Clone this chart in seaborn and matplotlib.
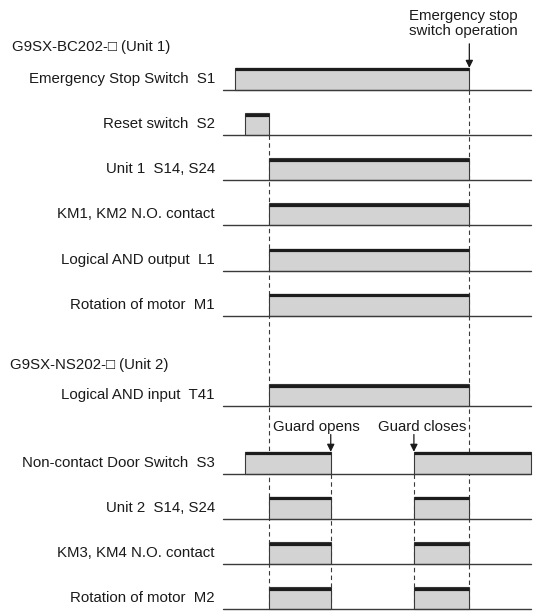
import matplotlib
matplotlib.use("Agg")
import matplotlib.pyplot as plt
import seaborn as sns

# signal names (top group = Unit 1, bottom group = Unit 2)
unit1_labels = ["Emergency Stop Switch  S1", "Reset switch  S2", "Unit 1  S14, S24",
                "KM1, KM2 N.O. contact", "Logical AND output  L1", "Rotation of motor  M1"]
unit2_labels = ["Logical AND input  T41", "Non-contact Door Switch  S3", "Unit 2  S14, S24",
                "KM3, KM4 N.O. contact", "Rotation of motor  M2"]

# ON intervals, time in arbitrary units (0 .. 100)
unit1_on = [[4], [7], [15], [15], [15], [15]]
unit1_off = [[80], [15], [80], [80], [80], [80]]
unit2_on = [[15], [7, 62], [15, 62], [15, 62], [15, 62]]
unit2_off = [[80], [35, 100], [35, 80], [35, 80], [35, 80]]

t_reset = 15
t_estop = 80
t_guard_open = 35
t_guard_close = 62
t_end = 100

header1 = "G9SX-BC202-\u25a1 (Unit 1)"
header2 = "G9SX-NS202-\u25a1 (Unit 2)"

sns.set_theme(style="white")
plt.rcParams['font.family'] = ['Liberation Sans', 'DejaVu Sans']

fig = plt.figure(figsize=(5.34, 6.12), dpi=100)
ax = fig.add_axes([0, 0, 1, 1])
ax.set_xlim(-72.4, 101.0)
ax.set_ylim(11.56, -1.99)
ax.axis('off')

# row layout
rows1 = [0, 1, 2, 3, 4, 5]
rows2 = [7, 8.5, 9.5, 10.5, 11.5]
h = 0.487
fs = 10.8
edge = '#3a3a3a'

labels = unit1_labels + unit2_labels
ons = unit1_on + unit2_on
offs = unit1_off + unit2_off
rows = rows1 + rows2

# dashed timing guides
ax.vlines(t_reset, 1, rows2[-1], color=edge, lw=0.8, linestyles=(0, (4, 3)), zorder=1)
ax.vlines(t_estop, 0, rows2[-1], color=edge, lw=0.8, linestyles=(0, (4, 3)), zorder=1)
ax.vlines([t_guard_open, t_guard_close], rows2[1], rows2[-1], color=edge, lw=0.8,
          linestyles=(0, (4, 3)), zorder=1)

for lab, r, on, off in zip(labels, rows, ons, offs):
    ax.plot([0, t_end], [r, r], color=edge, lw=1.0, zorder=3)
    for a, b in zip(on, off):
        ax.barh(r - h / 2, b - a, left=a, height=h, color='#d3d3d3',
                edgecolor=edge, lw=0.8, zorder=2)
        ax.hlines(r - h + 0.033, a, b, color='#1c1c1c', lw=2.3, zorder=4)
    ax.text(-2.6, r - 0.243, lab, ha='right', va='center', fontsize=fs, color='#1a1a1a')

ax.text(-68.5, -0.95, header1, ha='left', va='center', fontsize=fs, color='#1a1a1a')
ax.text(-69.0, 6.1, header2, ha='left', va='center', fontsize=fs, color='#1a1a1a')

# event arrows
arrow = dict(arrowstyle='-|>', color='#1a1a1a', lw=0.9, mutation_scale=11,
             shrinkA=0, shrinkB=0)
ax.annotate('', xy=(t_estop, rows1[0] - h), xytext=(t_estop, -1.02), arrowprops=arrow)
ax.text(78.2, -1.47, "Emergency stop\nswitch operation", ha='center', va='center',
        fontsize=fs, linespacing=1.1, color='#1a1a1a')

for t in (t_guard_open, t_guard_close):
    ax.annotate('', xy=(t, rows2[1] - h), xytext=(t, 7.63), arrowprops=arrow)
ax.text(16.2, 7.46, "Guard opens", ha='left', va='center', fontsize=fs, color='#1a1a1a')
ax.text(78.9, 7.46, "Guard closes", ha='right', va='center', fontsize=fs, color='#1a1a1a')

fig.savefig("out.png", dpi=100)
